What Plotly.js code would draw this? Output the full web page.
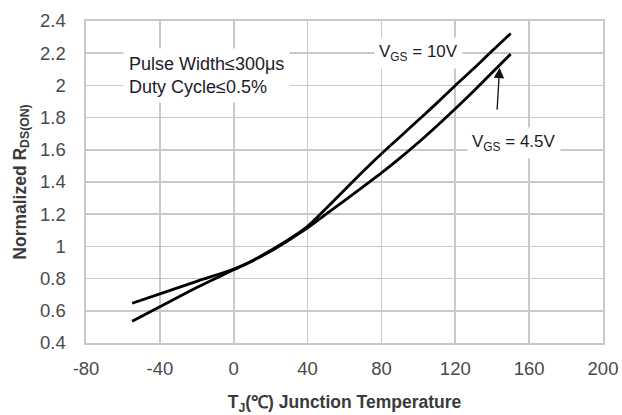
<!DOCTYPE html>
<html>
<head>
<meta charset="utf-8">
<script src="https://cdn.plot.ly/plotly-3.0.1.min.js"></script>
<style>html,body{margin:0;padding:0;background:#fff;}#chart{width:622px;height:415px;}</style>
</head>
<body>
<div id="chart"></div>
<script>
// Junction temperature (°C)
const tempVgs10 = [-55, -40, -20, 0, 10, 20, 30, 40, 50, 60, 70, 80, 90, 100, 110, 120, 130, 140, 150];
const rdsVgs10  = [0.535, 0.625, 0.745, 0.855, 0.91, 0.975, 1.045, 1.125, 1.235, 1.35, 1.465, 1.575, 1.68, 1.785, 1.89, 2.0, 2.105, 2.215, 2.323];
const tempVgs45 = [-55, -40, -20, 0, 10, 20, 30, 40, 50, 60, 70, 80, 90, 100, 110, 120, 130, 140, 150];
const rdsVgs45  = [0.647, 0.705, 0.783, 0.86, 0.91, 0.97, 1.04, 1.115, 1.2, 1.285, 1.37, 1.456, 1.548, 1.645, 1.748, 1.855, 1.965, 2.08, 2.195];
const xTicks = [-80, -40, 0, 40, 80, 120, 160, 200];
const yTicks = [0.4, 0.6, 0.8, 1, 1.2, 1.4, 1.6, 1.8, 2, 2.2, 2.4];
const yTickLabels = ['0.4', '0.6', '0.8', '1', '1.2', '1.4', '1.6', '1.8', '2', '2.2', '2.4'];

const lineStyle = {color: '#000', width: 2.8, shape: 'spline', smoothing: 1};
const traces = [
  {x: tempVgs10, y: rdsVgs10, mode: 'lines', line: lineStyle, name: 'VGS = 10V', hoverinfo: 'skip'},
  {x: tempVgs45, y: rdsVgs45, mode: 'lines', line: lineStyle, name: 'VGS = 4.5V', hoverinfo: 'skip'}
];

const fam = 'Liberation Sans, Arial, sans-serif';
const tickFont = {family: fam, size: 18.5, color: '#4a4a4a'};
const titleFont = {family: fam, size: 17.5, color: '#3a3a3a', weight: 'bold'};
const annFont = {family: fam, size: 17, color: '#1c1c2a'};
const pulseFont = {family: fam, size: 18, color: '#1c1c2a'};

const layout = {
  width: 622, height: 415,
  margin: {l: 86, r: 19, t: 21, b: 72},
  paper_bgcolor: '#fff', plot_bgcolor: '#fff',
  showlegend: false,
  xaxis: {
    range: [-80, 200], tickvals: xTicks, ticktext: xTicks.map(String),
    showgrid: true, gridcolor: '#c9c9c9', gridwidth: 1.6,
    showline: true, linecolor: '#c9c9c9', linewidth: 1.6, mirror: true,
    zeroline: false, ticks: 'outside', ticklen: 8, tickcolor: 'rgba(0,0,0,0)',
    tickfont: tickFont,
    title: {text: 'T<sub>J</sub>(℃) Junction Temperature', font: titleFont, standoff: 18}
  },
  yaxis: {
    range: [0.4, 2.4], tickvals: yTicks, ticktext: yTickLabels,
    showgrid: true, gridcolor: '#c9c9c9', gridwidth: 1.6,
    showline: true, linecolor: '#c9c9c9', linewidth: 1.6, mirror: true,
    zeroline: false, ticks: 'outside', ticklen: 15, tickcolor: 'rgba(0,0,0,0)',
    tickfont: tickFont,
    title: {text: 'Normalized R<sub>DS(ON)</sub>', font: titleFont, standoff: 9}
  },
  annotations: [
    {x: -60, y: 2.235, xref: 'x', yref: 'y', xanchor: 'left', yanchor: 'top', align: 'left',
     text: 'Pulse Width≤300μs<br>Duty Cycle≤0.5%', showarrow: false,
     font: pulseFont, bgcolor: '#fff', borderpad: 5},
    {x: 100, y: 2.2, xref: 'x', yref: 'y', xanchor: 'center', yanchor: 'middle',
     text: 'V<sub>GS</sub> = 10V', showarrow: false, font: annFont, bgcolor: '#fff', borderpad: 4},
    {x: 152, y: 1.64, xref: 'x', yref: 'y', xanchor: 'center', yanchor: 'middle',
     text: 'V<sub>GS</sub> = 4.5V', showarrow: false, font: annFont, bgcolor: '#fff', borderpad: 4},
    {x: 144, y: 2.11, xref: 'x', yref: 'y', ax: 142.6, ay: 1.84, axref: 'x', ayref: 'y',
     text: '', showarrow: true, arrowhead: 2, arrowsize: 1.6, arrowwidth: 1.3, arrowcolor: '#111'}
  ]
};

Plotly.newPlot('chart', traces, layout, {staticPlot: true, displayModeBar: false});
</script>
</body>
</html>
